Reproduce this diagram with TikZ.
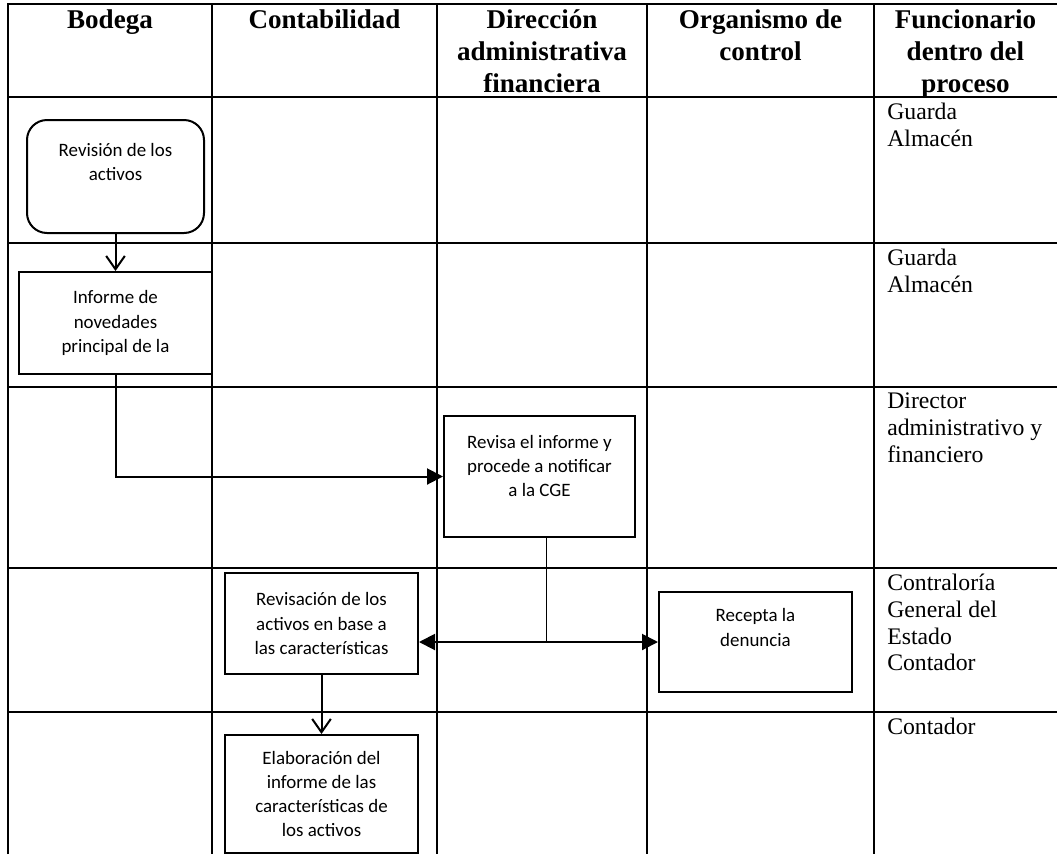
\documentclass[tikz,border=0pt]{standalone}
\usepackage{fontspec}
\setmainfont{Liberation Serif}
\newfontfamily\boxfont{Carlito}
\usetikzlibrary{arrows.meta,positioning}
\newcommand\lift[1]{\rule[-#1]{0pt}{#1}}

\begin{document}
\begin{tikzpicture}[
    x=0.75pt, y=-0.75pt,
    every node/.style={inner sep=0pt},
    hd/.style={font=\fontsize{20.3}{24.2}\selectfont\bfseries, align=center, anchor=north},
    fn/.style={font=\fontsize{17.8}{20}\selectfont, align=left, anchor=north west},
    act/.style={draw, line width=1.5pt, font=\boxfont\fontsize{14.2}{18.2}\selectfont,
                align=center, minimum width=144.75pt},
    ini/.style={act, rounded corners=15pt, minimum width=132.75pt},
    grid/.style={line width=2pt},
    e/.style={line width=1.5pt, -{Triangle[length=12pt,width=12pt]}},
    ee/.style={line width=1.5pt, {Triangle[length=12pt,width=12pt]}-{Triangle[length=12pt,width=12pt]}},
    v/.style={line width=1.5pt, -{Straight Barb[length=10pt,width=14pt]}},
  ]
  \useasboundingbox (0,0) rectangle (1057,854);
  % table
  \draw[grid] (8,854) -- (8,4) -- (1057,4);
  \foreach \x in {212,437,647,874} \draw[grid] (\x,4) -- (\x,854);
  \foreach \y in {97,243,387,568,712} \draw[grid] (8,\y) -- (1057,\y);
  % headers
  \node[hd] (hBod) at (110,9) {Bodega};
  \node[hd] (hCon) at (324.5,9) {Contabilidad};
  \node[hd] (hDir) at (542,9) {Dirección\\administrativa\\financiera};
  \node[hd] (hOrg) at (760.5,9) {Organismo de\\control};
  \node[hd] (hFun) at (965.5,9) {Funcionario\\dentro del\\proceso};
  % funcionarios
  \node[fn] (f1) at (887,103) {Guarda\\Almacén};
  \node[fn] (f2) at (887,249) {Guarda\\Almacén};
  \node[fn] (f3) at (887,393) {Director\\administrativo y\\financiero};
  \node[fn] (f4) at (887,574) {Contraloría\\General del\\Estado\\Contador};
  \node[fn] (f5) at (887,718) {Contador};
  % actividades
  \node[ini, minimum height=84.75pt] (rev) at (115.5,176.5) {Revisión de los\\activos\lift{21.8pt}};
  \node[act, minimum height=76.5pt] (inf) at (115.5,323) {Informe de\\novedades\\principal de la};
  \node[act, minimum width=143.25pt, minimum height=90.75pt] (chk) at (539.5,476.5)
       {Revisa el informe y\\procede a notificar\\a la CGE\lift{15.8pt}};
  \node[act, minimum height=75.75pt] (eval) at (321.5,623.5)
       {Revisación de los\\activos en base a\\las características};
  \node[act, minimum height=75pt] (rcp) at (755.5,642) {Recepta la\\denuncia\lift{21.8pt}};
  \node[act, minimum height=88.5pt] (elab) at (321.5,794)
       {Elaboración del\\informe de las\\características de\\los activos};
  \coordinate (jn) at ([xshift=5pt]chk.south |- rcp.west);
  % flujo
  \draw[v] (rev) -- (inf);
  \draw[e] (inf.south) |- (chk.west);
  \draw[line width=0.8pt] ([xshift=5pt]chk.south) -- (jn);
  \draw[ee] (eval.east |- jn) -- (rcp.west);
  \draw[v] (eval) -- (elab);
\end{tikzpicture}
\end{document}
